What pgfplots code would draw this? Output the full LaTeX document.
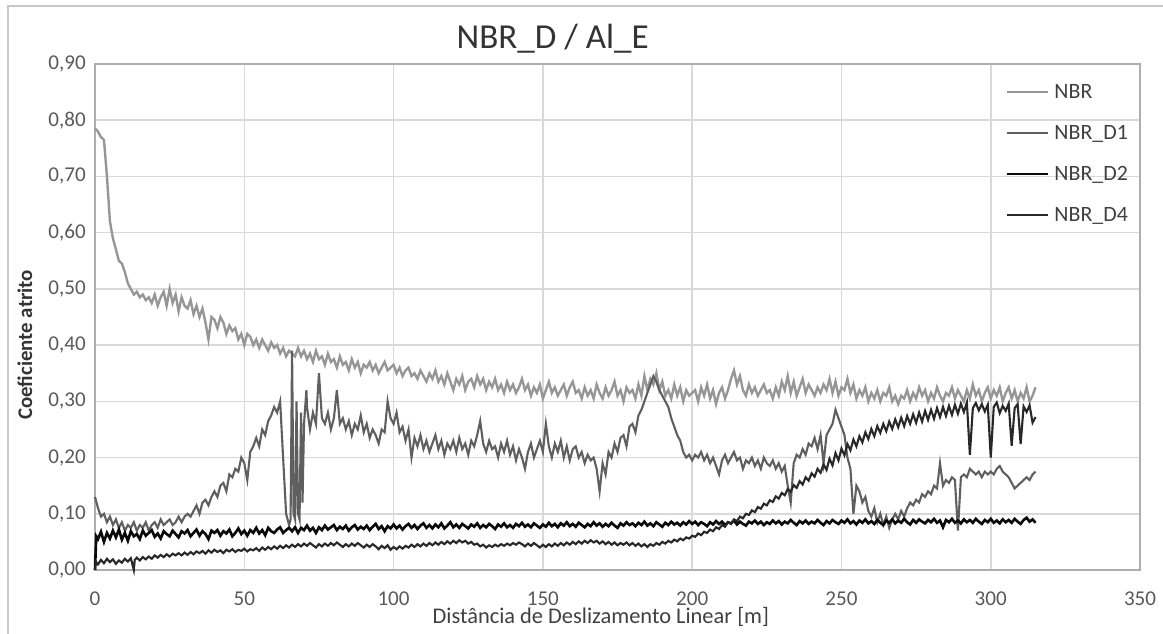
\documentclass[border=0pt]{standalone}
\usepackage{fontspec}
\setmainfont{Carlito}
\usepackage{pgfplots}
\pgfplotsset{compat=1.18}
\definecolor{cNBR}{RGB}{150,150,150}
\definecolor{cDone}{RGB}{95,95,95}
\definecolor{cDtwo}{RGB}{10,10,10}
\definecolor{cDfour}{RGB}{40,40,40}
\definecolor{ticktxt}{RGB}{89,89,89}
\definecolor{gridc}{RGB}{217,217,217}

\begin{document}
\begin{tikzpicture}
\begin{axis}[
    name=ax,
    scale only axis,
    width=13.928cm, height=6.744cm,
    xmin=0, xmax=350, ymin=0, ymax=0.9,
    xtick={0,50,...,350},
    ytick={0,0.1,...,0.9},
    grid=major, grid style={gridc, line width=0.6pt},
    axis line style={gridc!80!black, line width=0.6pt},
    major tick length=0pt,
    tick label style={font=\fontsize{8}{9.6}\selectfont, text=ticktxt},
    /pgf/number format/assume math mode=true,
    yticklabel style={/pgf/number format/.cd, fixed, fixed zerofill, precision=2, use comma},
    xticklabel style={yshift=-0.16cm},
    title={NBR\_D / Al\_E},
    every axis title shift=0pt,
    title style={font=\fontsize{13.3}{15}\selectfont, text=black!80, at={(0.438,1.051)}, anchor=center},
    xlabel={Distância de Deslizamento Linear [m]},
    xlabel style={font=\fontsize{8.5}{10}\selectfont, text=black!75, at={(axis description cs:0.484,-0.092)}, anchor=center},
    ylabel={Coeficiente atrito},
    ylabel style={font=\bfseries\fontsize{7.9}{9.5}\selectfont, text=black!80, at={(axis description cs:-0.067,0.445)}, anchor=center},
    legend cell align=left,
    legend image code/.code={\draw[#1, line width=0.6pt] (0cm,0cm) -- (0.55cm,0cm);},
    legend style={at={(0.864,0.993)}, anchor=north west, draw=none, fill=none,
      font=\fontsize{8.3}{10}\selectfont, text=black!75, row sep=1.5pt,
      nodes={text height=1.6ex, text depth=0.5ex}},
    clip=false,
]
% NBR
\addplot[cNBR, line width=0.9pt] coordinates {
(0,0.785)(1,0.78)(2,0.77)(3,0.765)(4,0.70)(5,0.62)(6,0.59)(7,0.57)(8,0.55)(9,0.545)
(10,0.53)(11,0.51)(12,0.50)(13,0.49)(14,0.495)(15,0.485)(16,0.49)(17,0.48)(18,0.485)(19,0.475)
(20,0.49)(21,0.47)(22,0.485)(23,0.495)(24,0.47)(25,0.50)(26,0.475)(27,0.49)(28,0.46)(29,0.485)
(30,0.47)(31,0.465)(32,0.48)(33,0.455)(34,0.47)(35,0.45)(36,0.465)(37,0.44)(38,0.41)(39,0.45)
(40,0.445)(41,0.43)(42,0.45)(43,0.44)(44,0.42)(45,0.435)(46,0.425)(47,0.43)(48,0.41)(49,0.42)
(50,0.40)(51,0.42)(52,0.415)(53,0.40)(54,0.41)(55,0.395)(56,0.41)(57,0.40)(58,0.39)(59,0.405)
(60,0.395)(61,0.40)(62,0.385)(63,0.395)(64,0.38)(65,0.39)(66,0.385)(67,0.38)(68,0.395)(69,0.38)
(70,0.39)(71,0.375)(72,0.385)(73,0.37)(74,0.39)(75,0.375)(76,0.38)(77,0.365)(78,0.385)(79,0.37)
(80,0.375)(81,0.36)(82,0.38)(83,0.365)(84,0.37)(85,0.355)(86,0.375)(87,0.36)(88,0.37)(89,0.35)
(90,0.365)(91,0.36)(92,0.37)(93,0.355)(94,0.365)(95,0.35)(96,0.36)(97,0.37)(98,0.355)(99,0.36)
(100,0.365)(101,0.35)(102,0.36)(103,0.345)(104,0.355)(105,0.36)(106,0.345)(107,0.35)(108,0.34)(109,0.355)
(110,0.345)(111,0.335)(112,0.35)(113,0.34)(114,0.355)(115,0.335)(116,0.345)(117,0.33)(118,0.35)(119,0.335)
(120,0.32)(121,0.34)(122,0.33)(123,0.345)(124,0.32)(125,0.335)(126,0.34)(127,0.325)(128,0.345)(129,0.33)
(130,0.34)(131,0.32)(132,0.335)(133,0.325)(134,0.34)(135,0.32)(136,0.33)(137,0.315)(138,0.335)(139,0.32)
(140,0.33)(141,0.315)(142,0.325)(143,0.34)(144,0.32)(145,0.33)(146,0.31)(147,0.325)(148,0.315)(149,0.33)
(150,0.305)(151,0.32)(152,0.335)(153,0.315)(154,0.325)(155,0.31)(156,0.32)(157,0.33)(158,0.31)(159,0.325)
(160,0.335)(161,0.315)(162,0.32)(163,0.305)(164,0.325)(165,0.31)(166,0.32)(167,0.305)(168,0.33)(169,0.315)
(170,0.305)(171,0.325)(172,0.31)(173,0.32)(174,0.335)(175,0.31)(176,0.32)(177,0.30)(178,0.325)(179,0.315)
(180,0.32)(181,0.305)(182,0.33)(183,0.31)(184,0.345)(185,0.32)(186,0.34)(187,0.33)(188,0.35)(189,0.32)
(190,0.335)(191,0.31)(192,0.32)(193,0.305)(194,0.33)(195,0.31)(196,0.325)(197,0.30)(198,0.32)(199,0.31)
(200,0.315)(201,0.32)(202,0.30)(203,0.325)(204,0.31)(205,0.33)(206,0.305)(207,0.32)(208,0.295)(209,0.315)
(210,0.325)(211,0.305)(212,0.32)(213,0.34)(214,0.355)(215,0.33)(216,0.345)(217,0.32)(218,0.31)(219,0.33)
(220,0.315)(221,0.325)(222,0.31)(223,0.32)(224,0.33)(225,0.315)(226,0.32)(227,0.305)(228,0.325)(229,0.31)
(230,0.335)(231,0.32)(232,0.345)(233,0.315)(234,0.335)(235,0.31)(236,0.325)(237,0.34)(238,0.315)(239,0.33)
(240,0.32)(241,0.31)(242,0.325)(243,0.315)(244,0.33)(245,0.32)(246,0.34)(247,0.315)(248,0.335)(249,0.31)
(250,0.325)(251,0.32)(252,0.34)(253,0.315)(254,0.33)(255,0.305)(256,0.32)(257,0.31)(258,0.325)(259,0.30)
(260,0.315)(261,0.305)(262,0.32)(263,0.30)(264,0.315)(265,0.31)(266,0.325)(267,0.30)(268,0.31)(269,0.295)
(270,0.31)(271,0.305)(272,0.32)(273,0.30)(274,0.315)(275,0.305)(276,0.325)(277,0.31)(278,0.32)(279,0.30)
(280,0.315)(281,0.305)(282,0.325)(283,0.31)(284,0.30)(285,0.315)(286,0.31)(287,0.325)(288,0.305)(289,0.32)
(290,0.31)(291,0.30)(292,0.32)(293,0.305)(294,0.33)(295,0.31)(296,0.32)(297,0.30)(298,0.315)(299,0.325)
(300,0.305)(301,0.32)(302,0.31)(303,0.325)(304,0.30)(305,0.315)(306,0.325)(307,0.305)(308,0.32)(309,0.30)
(310,0.315)(311,0.305)(312,0.325)(313,0.30)(314,0.31)(315,0.325)
};
\addlegendentry{NBR}
% NBR_D1
\addplot[cDone, line width=0.8pt] coordinates {
(0,0.13)(1,0.11)(2,0.095)(3,0.10)(4,0.085)(5,0.095)(6,0.08)(7,0.09)(8,0.075)(9,0.085)
(10,0.07)(11,0.08)(12,0.075)(13,0.085)(14,0.07)(15,0.08)(16,0.075)(17,0.085)(18,0.07)(19,0.08)
(20,0.085)(21,0.075)(22,0.09)(23,0.08)(24,0.085)(25,0.09)(26,0.08)(27,0.085)(28,0.095)(29,0.085)
(30,0.095)(31,0.10)(32,0.095)(33,0.105)(34,0.115)(35,0.10)(36,0.12)(37,0.125)(38,0.115)(39,0.13)
(40,0.14)(41,0.13)(42,0.15)(43,0.155)(44,0.14)(45,0.17)(46,0.165)(47,0.18)(48,0.175)(49,0.20)
(50,0.19)(51,0.16)(52,0.21)(53,0.22)(54,0.235)(55,0.22)(56,0.25)(57,0.24)(58,0.265)(59,0.275)
(60,0.29)(61,0.28)(62,0.30)(63,0.20)(64,0.10)(65,0.08)(65.5,0.09)(66,0.39)(66.5,0.10)(67,0.09)
(67.5,0.30)(68,0.10)(68.5,0.09)(69,0.28)(69.5,0.12)(70,0.26)(70.8,0.32)(71,0.29)(72,0.25)(73,0.28)
(74,0.26)(75,0.35)(76,0.27)(77,0.26)(78,0.28)(79,0.25)(80,0.27)(81,0.32)(82,0.26)(83,0.27)
(84,0.25)(85,0.265)(86,0.24)(87,0.26)(88,0.25)(89,0.275)(90,0.245)(91,0.26)(92,0.235)(93,0.25)
(94,0.24)(95,0.225)(96,0.25)(97,0.245)(98,0.30)(99,0.27)(100,0.26)(101,0.28)(102,0.245)(103,0.255)
(104,0.23)(105,0.25)(106,0.20)(107,0.235)(108,0.22)(109,0.24)(110,0.215)(111,0.23)(112,0.21)(113,0.225)
(114,0.24)(115,0.215)(116,0.23)(117,0.205)(118,0.225)(119,0.215)(120,0.23)(121,0.21)(122,0.235)(123,0.215)
(124,0.225)(125,0.205)(126,0.23)(127,0.22)(128,0.24)(129,0.265)(130,0.225)(131,0.21)(132,0.23)(133,0.215)
(134,0.22)(135,0.20)(136,0.225)(137,0.21)(138,0.23)(139,0.205)(140,0.22)(141,0.195)(142,0.215)(143,0.20)
(144,0.18)(145,0.21)(146,0.225)(147,0.20)(148,0.215)(149,0.23)(150,0.21)(151,0.26)(152,0.22)(153,0.20)
(154,0.225)(155,0.21)(156,0.23)(157,0.20)(158,0.22)(159,0.195)(160,0.215)(161,0.22)(162,0.20)(163,0.21)
(164,0.19)(165,0.205)(166,0.195)(167,0.20)(168,0.18)(169,0.14)(170,0.19)(171,0.17)(172,0.21)(173,0.20)
(174,0.225)(175,0.21)(176,0.235)(177,0.24)(178,0.22)(179,0.255)(180,0.26)(181,0.245)(182,0.275)(183,0.285)
(184,0.30)(185,0.315)(186,0.33)(187,0.345)(188,0.335)(189,0.32)(190,0.31)(191,0.30)(192,0.29)(193,0.27)
(194,0.255)(195,0.24)(196,0.23)(197,0.21)(198,0.20)(199,0.205)(200,0.195)(201,0.205)(202,0.20)(203,0.21)
(204,0.195)(205,0.205)(206,0.19)(207,0.20)(208,0.185)(209,0.17)(210,0.195)(211,0.205)(212,0.19)(213,0.20)
(214,0.21)(215,0.195)(216,0.20)(217,0.18)(218,0.195)(219,0.19)(220,0.20)(221,0.185)(222,0.195)(223,0.18)
(224,0.20)(225,0.19)(226,0.185)(227,0.195)(228,0.18)(229,0.19)(230,0.175)(231,0.185)(232,0.15)(233,0.12)
(234,0.19)(235,0.205)(236,0.20)(237,0.215)(238,0.205)(239,0.225)(240,0.22)(241,0.235)(242,0.215)(243,0.24)
(244,0.19)(245,0.24)(246,0.25)(247,0.26)(248,0.285)(249,0.27)(250,0.255)(251,0.24)(252,0.20)(253,0.18)
(254,0.10)(255,0.15)(256,0.14)(257,0.12)(258,0.13)(259,0.105)(260,0.095)(261,0.11)(262,0.085)(263,0.10)
(264,0.08)(265,0.095)(266,0.075)(267,0.09)(268,0.10)(269,0.09)(270,0.105)(271,0.095)(272,0.11)(273,0.12)
(274,0.115)(275,0.125)(276,0.12)(277,0.135)(278,0.13)(279,0.14)(280,0.135)(281,0.15)(282,0.145)(283,0.19)
(284,0.15)(285,0.16)(286,0.155)(287,0.165)(288,0.16)(289,0.07)(290,0.165)(291,0.17)(292,0.165)(293,0.18)
(294,0.175)(295,0.17)(296,0.175)(297,0.165)(298,0.175)(299,0.17)(300,0.175)(301,0.17)(302,0.18)(303,0.185)
(304,0.175)(305,0.17)(306,0.165)(307,0.155)(308,0.145)(309,0.15)(310,0.155)(311,0.16)(312,0.165)(313,0.16)
(314,0.17)(315,0.175)
};
\addlegendentry{NBR\_D1}
% NBR_D2
\addplot[cDtwo, line width=1pt] coordinates {
(0,0.000)(0.4,0.060)(1,0.055)(2,0.068)(3,0.050)(4,0.066)(5,0.056)(6,0.070)(7,0.058)(8,0.072)(9,0.054)
(10,0.066)(11,0.052)(12,0.069)(13,0.060)(14,0.064)(15,0.055)(16,0.070)(17,0.061)(18,0.066)(19,0.071)
(20,0.059)(21,0.065)(22,0.056)(23,0.069)(24,0.064)(25,0.060)(26,0.070)(27,0.064)(28,0.058)(29,0.069)
(30,0.065)(31,0.071)(32,0.060)(33,0.066)(34,0.072)(35,0.061)(36,0.069)(37,0.064)(38,0.055)(39,0.070)
(40,0.066)(41,0.071)(42,0.061)(43,0.069)(44,0.065)(45,0.072)(46,0.060)(47,0.066)(48,0.074)(49,0.064)
(50,0.070)(51,0.061)(52,0.071)(53,0.066)(54,0.075)(55,0.065)(56,0.071)(57,0.062)(58,0.075)(59,0.069)
(60,0.066)(61,0.072)(62,0.076)(63,0.066)(64,0.071)(65,0.075)(66,0.069)(67,0.076)(68,0.066)(69,0.075)
(70,0.071)(71,0.079)(72,0.070)(73,0.075)(74,0.066)(75,0.076)(76,0.071)(77,0.079)(78,0.072)(79,0.076)
(80,0.080)(81,0.071)(82,0.077)(83,0.073)(84,0.079)(85,0.070)(86,0.076)(87,0.080)(88,0.072)(89,0.077)
(90,0.073)(91,0.079)(92,0.071)(93,0.077)(94,0.082)(95,0.073)(96,0.078)(97,0.069)(98,0.078)(99,0.074)
(100,0.081)(101,0.074)(102,0.079)(103,0.072)(104,0.078)(105,0.082)(106,0.075)(107,0.080)(108,0.073)(109,0.079)
(110,0.083)(111,0.075)(112,0.080)(113,0.074)(114,0.081)(115,0.076)(116,0.083)(117,0.074)(118,0.079)(119,0.085)
(120,0.076)(121,0.081)(122,0.075)(123,0.082)(124,0.078)(125,0.074)(126,0.081)(127,0.077)(128,0.083)(129,0.075)
(130,0.080)(131,0.076)(132,0.082)(133,0.078)(134,0.073)(135,0.081)(136,0.077)(137,0.083)(138,0.076)(139,0.080)
(140,0.075)(141,0.082)(142,0.078)(143,0.084)(144,0.077)(145,0.081)(146,0.076)(147,0.083)(148,0.079)(149,0.075)
(150,0.081)(151,0.077)(152,0.084)(153,0.078)(154,0.082)(155,0.076)(156,0.083)(157,0.079)(158,0.085)(159,0.078)
(160,0.082)(161,0.077)(162,0.084)(163,0.080)(164,0.076)(165,0.082)(166,0.078)(167,0.085)(168,0.079)(169,0.083)
(170,0.077)(171,0.082)(172,0.078)(173,0.084)(174,0.079)(175,0.075)(176,0.083)(177,0.079)(178,0.085)(179,0.080)
(180,0.083)(181,0.078)(182,0.084)(183,0.080)(184,0.086)(185,0.079)(186,0.083)(187,0.078)(188,0.085)(189,0.081)
(190,0.077)(191,0.084)(192,0.080)(193,0.086)(194,0.081)(195,0.084)(196,0.079)(197,0.085)(198,0.081)(199,0.087)
(200,0.082)(201,0.086)(202,0.080)(203,0.085)(204,0.082)(205,0.078)(206,0.085)(207,0.081)(208,0.087)(209,0.082)
(210,0.086)(211,0.080)(212,0.085)(213,0.083)(214,0.088)(215,0.081)(216,0.086)(217,0.082)(218,0.079)(219,0.086)
(220,0.083)(221,0.088)(222,0.082)(223,0.086)(224,0.080)(225,0.085)(226,0.082)(227,0.088)(228,0.083)(229,0.087)
(230,0.081)(231,0.086)(232,0.083)(233,0.089)(234,0.084)(235,0.080)(236,0.087)(237,0.083)(238,0.088)(239,0.082)
(240,0.086)(241,0.083)(242,0.089)(243,0.084)(244,0.080)(245,0.087)(246,0.083)(247,0.089)(248,0.085)(249,0.082)
(250,0.088)(251,0.084)(252,0.090)(253,0.083)(254,0.087)(255,0.081)(256,0.088)(257,0.084)(258,0.090)(259,0.083)
(260,0.087)(261,0.082)(262,0.089)(263,0.084)(264,0.080)(265,0.088)(266,0.084)(267,0.090)(268,0.083)(269,0.088)
(270,0.084)(271,0.091)(272,0.085)(273,0.081)(274,0.089)(275,0.084)(276,0.090)(277,0.086)(278,0.083)(279,0.089)
(280,0.085)(281,0.091)(282,0.084)(283,0.088)(284,0.076)(285,0.089)(286,0.085)(287,0.091)(288,0.084)(289,0.088)
(290,0.083)(291,0.090)(292,0.085)(293,0.089)(294,0.084)(295,0.091)(296,0.086)(297,0.082)(298,0.089)(299,0.085)
(300,0.091)(301,0.084)(302,0.088)(303,0.083)(304,0.090)(305,0.085)(306,0.089)(307,0.084)(308,0.091)(309,0.086)
(310,0.082)(311,0.089)(312,0.093)(313,0.086)(314,0.090)(315,0.084)
};
\addlegendentry{NBR\_D2}
% NBR_D4
\addplot[cDfour, line width=0.8pt] coordinates {
(0,0.000)(0.3,0.015)(1,0.010)(2,0.018)(3,0.012)(4,0.020)(5,0.014)(6,0.019)(7,0.011)(8,0.017)(9,0.013)
(10,0.020)(11,0.015)(12,0.021)(13,0.000)(13.3,0.018)(14,0.022)(15,0.017)(16,0.023)(17,0.019)(18,0.024)(19,0.020)
(20,0.026)(21,0.022)(22,0.027)(23,0.023)(24,0.028)(25,0.024)(26,0.029)(27,0.026)(28,0.030)(29,0.026)
(30,0.031)(31,0.027)(32,0.032)(33,0.028)(34,0.033)(35,0.030)(36,0.034)(37,0.029)(38,0.035)(39,0.031)
(40,0.036)(41,0.032)(42,0.035)(43,0.030)(44,0.036)(45,0.033)(46,0.037)(47,0.032)(48,0.036)(49,0.034)
(50,0.038)(51,0.033)(52,0.037)(53,0.035)(54,0.039)(55,0.034)(56,0.040)(57,0.036)(58,0.041)(59,0.037)
(60,0.042)(61,0.038)(62,0.043)(63,0.039)(64,0.044)(65,0.040)(66,0.045)(67,0.041)(68,0.046)(69,0.042)
(70,0.047)(71,0.043)(72,0.048)(73,0.044)(74,0.040)(75,0.046)(76,0.042)(77,0.047)(78,0.043)(79,0.048)
(80,0.044)(81,0.049)(82,0.045)(83,0.041)(84,0.046)(85,0.042)(86,0.047)(87,0.043)(88,0.048)(89,0.044)
(90,0.040)(91,0.045)(92,0.041)(93,0.046)(94,0.042)(95,0.037)(96,0.043)(97,0.039)(98,0.044)(99,0.036)
(100,0.041)(101,0.037)(102,0.042)(103,0.038)(104,0.043)(105,0.040)(106,0.045)(107,0.041)(108,0.046)(109,0.042)
(110,0.047)(111,0.043)(112,0.048)(113,0.044)(114,0.049)(115,0.045)(116,0.050)(117,0.046)(118,0.051)(119,0.047)
(120,0.052)(121,0.048)(122,0.053)(123,0.049)(124,0.052)(125,0.047)(126,0.050)(127,0.045)(128,0.047)(129,0.042)
(130,0.045)(131,0.040)(132,0.044)(133,0.041)(134,0.045)(135,0.042)(136,0.046)(137,0.043)(138,0.047)(139,0.044)
(140,0.048)(141,0.045)(142,0.049)(143,0.046)(144,0.042)(145,0.047)(146,0.043)(147,0.048)(148,0.044)(149,0.040)
(150,0.045)(151,0.041)(152,0.046)(153,0.042)(154,0.047)(155,0.043)(156,0.048)(157,0.044)(158,0.049)(159,0.045)
(160,0.050)(161,0.046)(162,0.051)(163,0.047)(164,0.052)(165,0.048)(166,0.053)(167,0.049)(168,0.052)(169,0.047)
(170,0.051)(171,0.046)(172,0.050)(173,0.045)(174,0.049)(175,0.044)(176,0.048)(177,0.045)(178,0.049)(179,0.044)
(180,0.048)(181,0.043)(182,0.047)(183,0.042)(184,0.046)(185,0.041)(186,0.046)(187,0.043)(188,0.048)(189,0.045)
(190,0.050)(191,0.047)(192,0.052)(193,0.049)(194,0.054)(195,0.051)(196,0.056)(197,0.053)(198,0.058)(199,0.056)
(200,0.061)(201,0.059)(202,0.065)(203,0.062)(204,0.068)(205,0.066)(206,0.072)(207,0.069)(208,0.076)(209,0.073)
(210,0.080)(211,0.077)(212,0.085)(213,0.082)(214,0.090)(215,0.087)(216,0.095)(217,0.092)(218,0.100)(219,0.098)
(220,0.106)(221,0.103)(222,0.112)(223,0.109)(224,0.118)(225,0.115)(226,0.124)(227,0.121)(228,0.131)(229,0.127)
(230,0.137)(231,0.133)(232,0.144)(233,0.139)(234,0.151)(235,0.146)(236,0.158)(237,0.152)(238,0.165)(239,0.159)
(240,0.172)(241,0.166)(242,0.180)(243,0.173)(244,0.188)(245,0.178)(246,0.198)(247,0.186)(248,0.208)(249,0.195)
(250,0.216)(251,0.204)(252,0.224)(253,0.213)(254,0.232)(255,0.220)(256,0.238)(257,0.227)(258,0.245)(259,0.233)
(260,0.251)(261,0.238)(262,0.256)(263,0.244)(264,0.260)(265,0.247)(266,0.264)(267,0.251)(268,0.268)(269,0.254)
(270,0.271)(271,0.256)(272,0.274)(273,0.260)(274,0.277)(275,0.262)(276,0.280)(277,0.264)(278,0.283)(279,0.267)
(280,0.285)(281,0.269)(282,0.288)(283,0.272)(284,0.290)(285,0.274)(286,0.292)(287,0.276)(288,0.294)(289,0.278)
(290,0.296)(291,0.281)(292,0.298)(293,0.205)(294,0.288)(295,0.297)(296,0.284)(297,0.295)(298,0.282)(299,0.294)
(300,0.200)(301,0.290)(302,0.298)(303,0.279)(304,0.292)(305,0.283)(306,0.296)(307,0.221)(308,0.288)(309,0.295)
(310,0.224)(311,0.291)(312,0.281)(313,0.293)(314,0.262)(315,0.272)
};
\addlegendentry{NBR\_D4}
\coordinate (O) at (rel axis cs:0,0);
\end{axis}
% outer chart frame (only its top and left edges are visible)
\draw[black!22, line width=0.75pt] ([shift={(-1.16cm,-0.85cm)}]O) -- ([shift={(-1.16cm,7.52cm)}]O) -- ([shift={(14.3cm,7.52cm)}]O);
\pgfresetboundingbox
\path[use as bounding box] ([shift={(-1.2662cm,-0.8397cm)}]O) rectangle ++(15.5cm,8.4366cm);
\end{tikzpicture}
\end{document}
